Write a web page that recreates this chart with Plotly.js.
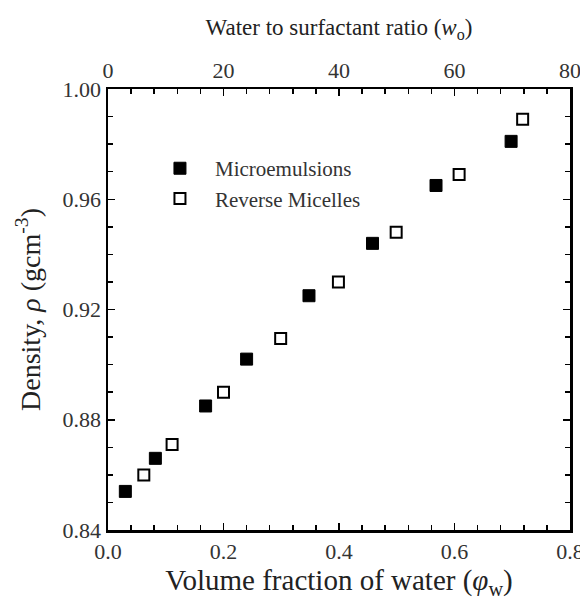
<!DOCTYPE html>
<html>
<head>
<meta charset="utf-8">
<script src="https://cdn.plot.ly/plotly-3.0.1.min.js"></script>
<style>html,body{margin:0;padding:0;background:#fff;}</style>
</head>
<body>
<div id="chart" style="width:580px;height:600px;"></div>
<script>
// Data
var microX = [0.03, 0.082, 0.169, 0.240, 0.348, 0.458, 0.568, 0.698];
var microY = [0.854, 0.866, 0.885, 0.902, 0.925, 0.944, 0.965, 0.981];
var reverseX = [0.062, 0.111, 0.200, 0.299, 0.399, 0.499, 0.608, 0.718];
var reverseY = [0.860, 0.871, 0.890, 0.9095, 0.930, 0.948, 0.969, 0.989];
var seriesNames = ['Microemulsions', 'Reverse Micelles'];

var serif = 'Liberation Serif, Times New Roman, serif';
var fontCol = '#333';

var traces = [
  {x: microX, y: microY, type: 'scatter', mode: 'markers', name: seriesNames[0],
   marker: {symbol: 'square', size: 12, color: '#000', line: {color: '#000', width: 1}}},
  {x: reverseX, y: reverseY, type: 'scatter', mode: 'markers', name: seriesNames[1],
   marker: {symbol: 'square', size: 11, color: '#fff', line: {color: '#000', width: 2}}},
  {x: [], y: [], xaxis: 'x2', yaxis: 'y', type: 'scatter', mode: 'markers', showlegend: false, hoverinfo: 'skip'},
  {x: [], y: [], xaxis: 'x', yaxis: 'y2', type: 'scatter', mode: 'markers', showlegend: false, hoverinfo: 'skip'}
];

var tickCommon = {ticks: 'inside', ticklen: 7, tickwidth: 1.5, tickcolor: '#000',
                  showgrid: false, zeroline: false};

var layout = {
  width: 580, height: 600,
  margin: {l: 108, r: 10, t: 89, b: 70},
  paper_bgcolor: '#fff', plot_bgcolor: '#fff',
  font: {family: serif, color: fontCol, size: 20},
  showlegend: true,
  legend: {x: 0.08, y: 0.866, xanchor: 'left', yanchor: 'top', bgcolor: 'rgba(0,0,0,0)',
           font: {family: serif, size: 21, color: fontCol}, itemwidth: 60, tracegroupgap: 0},
  xaxis: Object.assign({}, tickCommon, {
    range: [0, 0.8], dtick: 0.2, tick0: 0, tickformat: '.1f',
    minor: {dtick: 0.04, ticklen: 5, tickwidth: 1.5, tickcolor: '#000', ticks: 'inside'},
    showline: true, linecolor: '#000', linewidth: 2.5, mirror: false,
    ticklabeloverflow: 'allow',
    tickfont: {family: serif, size: 22, color: fontCol},
    title: {text: 'Volume fraction of water (<i>φ</i><sub>w</sub>)', font: {family: serif, size: 29, color: '#222'}, standoff: 4}
  }),
  xaxis2: Object.assign({}, tickCommon, {
    range: [0, 80], dtick: 20, tick0: 0, overlaying: 'x', side: 'top', anchor: 'y',
    minor: {dtick: 4, ticklen: 5, tickwidth: 1.5, tickcolor: '#000', ticks: 'inside'},
    showline: true, linecolor: '#000', linewidth: 2.5,
    ticklabeloverflow: 'allow',
    tickfont: {family: serif, size: 22, color: fontCol},
    title: {text: 'Water to surfactant ratio (<i>w</i><sub>o</sub>)', font: {family: serif, size: 23, color: '#222'}, standoff: 16}
  }),
  yaxis: Object.assign({}, tickCommon, {
    range: [0.84, 1.00], dtick: 0.04, tick0: 0.84, tickformat: '.2f',
    minor: {dtick: 0.01, ticklen: 5, tickwidth: 1.5, tickcolor: '#000', ticks: 'inside'},
    showline: true, linecolor: '#000', linewidth: 2.5, mirror: false,
    tickfont: {family: serif, size: 22, color: fontCol},
    title: {text: 'Density, <i>ρ</i> (gcm<sup>-3</sup>)', font: {family: serif, size: 28, color: '#222'}, standoff: 14}
  }),
  yaxis2: Object.assign({}, tickCommon, {
    range: [0.84, 1.00], dtick: 0.04, tick0: 0.84, overlaying: 'y', side: 'right', anchor: 'x',
    minor: {dtick: 0.01, ticklen: 5, tickwidth: 1.5, tickcolor: '#000', ticks: 'inside'},
    showline: true, linecolor: '#000', linewidth: 2.5, showticklabels: false
  })
};

Plotly.newPlot('chart', traces, layout, {displayModeBar: false, staticPlot: true});
</script>
</body>
</html>
